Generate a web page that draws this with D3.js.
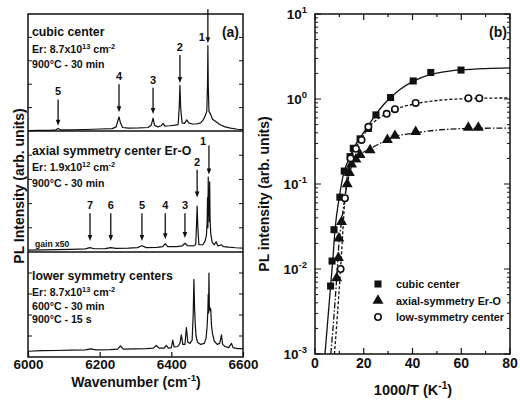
<!DOCTYPE html>
<html>
<head>
<meta charset="utf-8">
<script src="https://cdn.jsdelivr.net/npm/d3@7"></script>
<style>
body { margin: 0; background: #fff; }
text { font-family: "Liberation Sans", Arial, sans-serif; font-weight: bold; fill: #111; }
</style>
</head>
<body>
<div id="chart"></div>
<script>
// ---- panel (a): PL spectra, [wavenumber cm-1, intensity (arb., 0-100 per strip)]
var cubicSpec = [[6000,0.4],[6030,0.6],[6060,0.6],[6078,1.0],[6084,2.2],[6090,1.0],[6120,1.0],[6160,1.3],[6200,1.7],[6235,2.0],[6246,3.5],[6251,9],[6254,12],[6258,7],[6264,3],[6280,2.4],[6310,2.6],[6335,3.0],[6344,5],[6349,11],[6353,5],[6362,3.5],[6372,4.5],[6377,6.5],[6382,4.2],[6395,4.5],[6410,5],[6419,5.5],[6422,20],[6424,39],[6426,20],[6430,7],[6437,6.5],[6443,9.5],[6448,7],[6458,6],[6470,6],[6482,7],[6490,10],[6496,14],[6499,17],[6501,40],[6502,73],[6503,40],[6505,17],[6510,14],[6515,10],[6522,8.5],[6535,5.5],[6550,3.5],[6565,2.5],[6585,1.5],[6600,1.0]];
var axialSpec = [[6000,1.6],[6040,1.8],[6080,2.0],[6120,2.2],[6160,2.6],[6173,3.6],[6185,2.7],[6215,2.8],[6231,3.6],[6245,3.0],[6280,3.2],[6305,3.6],[6318,5.2],[6330,3.6],[6360,3.8],[6376,4.5],[6383,6.8],[6390,4.5],[6415,4.5],[6430,5.0],[6438,7.2],[6445,5.2],[6460,5.0],[6468,6],[6470,20],[6472,38],[6474,20],[6477,6],[6488,6],[6494,9],[6498,14],[6500,25],[6501,45],[6502,20],[6503,62],[6504,30],[6505,52],[6506,25],[6507,58],[6508,28],[6510,15],[6514,8],[6520,6],[6525,8.5],[6530,5],[6540,6],[6545,4.5],[6560,4],[6580,3.5],[6600,3.2]];
var lowSpec = [[6000,5.5],[6040,6],[6080,6.2],[6120,6.5],[6160,6.8],[6175,7.8],[6190,6.8],[6230,7],[6250,7.5],[6258,10.5],[6266,7.5],[6300,7.8],[6330,8],[6350,8.5],[6358,11],[6366,8.5],[6380,8.5],[6386,11],[6392,8.5],[6400,9],[6404,16],[6408,9.5],[6418,10],[6424,13],[6428,21],[6432,12],[6438,12],[6442,28],[6446,14],[6452,13],[6458,16],[6461,40],[6463,74],[6465,45],[6467,30],[6469,20],[6473,14],[6482,12],[6492,13],[6497,18],[6500,30],[6502,45],[6503,60],[6504,42],[6505,80],[6506,50],[6508,44],[6510,46],[6512,30],[6515,22],[6520,15],[6528,12],[6535,13],[6540,21],[6543,12],[6550,10],[6560,9],[6568,13],[6572,9],[6585,8],[6600,8]];

// peak markers: label, wavenumber, arrow from / to (strip units)
var cubicArrows = [["5",6084,27,4.5],["4",6254,40,16],["3",6349,37,14.5],["2",6424,65,41],["1",6502,104,75]];
var axialArrows = [["7",6173,32,9],["6",6231,32,9],["5",6318,32,9],["4",6383,32,10.5],["3",6438,32,11.5],["2",6472,68,45],["1",6505,88,64]];

var cubicInfo = ["cubic center", "Er: 8.7x10^{13} cm^{-2}", "900°C - 30 min"];
var axialInfo = ["axial symmetry center Er-O", "Er: 1.9x10^{12} cm^{-2}", "900°C - 30 min"];
var lowInfo = ["lower symmetry centers", "Er: 8.7x10^{13} cm^{-2}", "600°C - 30 min", "900°C - 15 s"];

var wnTicks = [6000, 6200, 6400, 6600];

// ---- panel (b): PL intensity vs 1000/T
var cubicX = [6.4, 7.0, 7.8, 10.2, 12.0, 14.4, 15.7, 18.5, 21.9, 25.0, 31.0, 40.3, 47.5, 59.9];
var cubicY = [0.0063, 0.0124, 0.029, 0.070, 0.142, 0.21, 0.263, 0.34, 0.45, 0.65, 1.04, 1.63, 2.05, 2.19];
var axialX = [8.9, 9.6, 9.8, 10.9, 13.2, 14.1, 15.0, 16.8, 18.5, 22.6, 29.7, 32.8, 41.3, 62.9, 67.0];
var axialY = [0.0078, 0.0135, 0.023, 0.036, 0.10, 0.135, 0.17, 0.195, 0.22, 0.25, 0.33, 0.37, 0.41, 0.46, 0.46];
var lowX = [10.5, 12.3, 14.6, 16.8, 19.1, 21.9, 29.4, 32.8, 41.3, 62.9, 67.4];
var lowY = [0.010, 0.068, 0.20, 0.26, 0.33, 0.47, 0.67, 0.76, 0.90, 1.02, 1.02];

// fitted curves
var cubicFitX = [4.1, 6.4, 7.3, 8.2, 10, 11.8, 14, 16, 18.5, 21.5, 25, 28, 31, 35, 40, 45, 50, 55, 60, 70, 80];
var cubicFitY = [0.001, 0.0063, 0.0128, 0.0288, 0.071, 0.135, 0.2, 0.27, 0.35, 0.47, 0.66, 0.85, 1.04, 1.3, 1.6, 1.85, 2.02, 2.13, 2.2, 2.28, 2.32];
var axialFitX = [6.5, 8.9, 9.7, 10.9, 13.2, 15, 18.5, 22.6, 29.7, 32.8, 41.3, 50, 63, 80];
var axialFitY = [0.001, 0.0078, 0.018, 0.036, 0.10, 0.16, 0.22, 0.26, 0.33, 0.36, 0.40, 0.43, 0.45, 0.455];
var lowFitX = [8.0, 10.5, 12.3, 14.6, 16.8, 19.1, 21.9, 25, 29.4, 32.8, 41.3, 50, 62.9, 80];
var lowFitY = [0.001, 0.010, 0.068, 0.2, 0.27, 0.34, 0.46, 0.56, 0.67, 0.75, 0.88, 0.96, 1.01, 1.03];

var legendLabels = ["cubic center", "axial-symmetry Er-O", "low-symmetry center"];
var invTTicks = [0, 20, 40, 60, 80];

var W = 520, H = 403;
var svg = d3.select("#chart").append("svg").attr("width", W).attr("height", H);
svg.append("rect").attr("width", W).attr("height", H).attr("fill", "#fff");

// text with ^{...} superscripts
function rich(t, str, size) {
	var parts = str.split(/\^\{([^}]*)\}/), up = false;
	parts.forEach(function(p, i) {
		if (p === "") return;
		var ts = t.append("tspan").text(p);
		if (i % 2 === 1) {
			ts.attr("font-size", size * 0.7).attr("dy", up ? 0 : -size * 0.42);
			up = true;
		} else {
			ts.attr("dy", up ? size * 0.42 : 0);
			up = false;
		}
	});
	return t;
}

// ================= panel (a)
var xA = d3.scaleLinear().domain([6000, 6600]).range([28, 243]);
var strips = [
	{ spec: cubicSpec, top: 14, bottom: 131, arrows: cubicArrows, info: cubicInfo, infoY: 35.5, dy: [0, 17.5, 32.5] },
	{ spec: axialSpec, top: 131, bottom: 252, arrows: axialArrows, info: axialInfo, infoY: 155, dy: [0, 16, 32] },
	{ spec: lowSpec, top: 252, bottom: 357, arrows: [], info: lowInfo, infoY: 280, dy: [0, 16, 30, 43] }
];

var gA = svg.append("g");

strips.forEach(function(s) {
	var y = d3.scaleLinear().domain([0, 100]).range([s.bottom, s.top]);

	// small inward ticks on both sides
	y.ticks(5).filter(function(v) { return v > 0 && v < 100; }).forEach(function(v) {
		gA.append("line").attr("x1", 28).attr("x2", 32).attr("y1", y(v)).attr("y2", y(v))
			.attr("stroke", "#111").attr("stroke-width", 1);
		gA.append("line").attr("x1", 239).attr("x2", 243).attr("y1", y(v)).attr("y2", y(v))
			.attr("stroke", "#111").attr("stroke-width", 1);
	});

	gA.append("path")
		.datum(s.spec)
		.attr("fill", "none")
		.attr("stroke", "#111")
		.attr("stroke-width", 1.2)
		.attr("stroke-linejoin", "round")
		.attr("d", d3.line().x(function(d) { return xA(d[0]); }).y(function(d) { return y(d[1]); }));

	s.arrows.forEach(function(a) {
		var x = xA(a[1]), y0 = y(a[2]), y1 = y(a[3]);
		gA.append("line").attr("x1", x).attr("x2", x).attr("y1", y0).attr("y2", y1 - 4)
			.attr("stroke", "#111").attr("stroke-width", 1.3);
		gA.append("path").attr("d", "M" + (x - 2.3) + "," + (y1 - 6) + "L" + (x + 2.3) + "," + (y1 - 6) + "L" + x + "," + y1 + "Z")
			.attr("fill", "#111");
		var lbl = gA.append("text").attr("font-size", 11).text(a[0]);
		if (a[0] === "1") {
			lbl.attr("x", x - 6).attr("text-anchor", "middle")
				.attr("y", s.top === 14 ? 41 : y0 - 1);
		} else {
			lbl.attr("x", x).attr("text-anchor", "middle").attr("y", y0 - 4);
		}
	});

	s.info.forEach(function(line, i) {
		var t = gA.append("text").attr("x", 32).attr("y", s.infoY + s.dy[i])
			.attr("font-size", i === 0 ? 12.3 : 10.6);
		rich(t, line, i === 0 ? 12.3 : 10.6);
	});
});

gA.append("text").attr("x", 35).attr("y", 247).attr("font-size", 8.6).text("gain x50");

// frame and strip dividers
gA.append("rect").attr("x", 28).attr("y", 14).attr("width", 215).attr("height", 343)
	.attr("fill", "none").attr("stroke", "#111").attr("stroke-width", 1.5);
[131, 252].forEach(function(v) {
	gA.append("line").attr("x1", 28).attr("x2", 243).attr("y1", v).attr("y2", v)
		.attr("stroke", "#111").attr("stroke-width", 1.5);
});

var axA = gA.append("g").attr("transform", "translate(0,357)")
	.call(d3.axisBottom(xA).tickValues(wnTicks).tickSizeInner(-5).tickSizeOuter(0).tickPadding(2).tickFormat(d3.format("d")));
axA.select(".domain").remove();
axA.selectAll("line").attr("stroke", "#111").attr("stroke-width", 1.2);
axA.selectAll("text").attr("font-size", 13.5).attr("font-family", null);

rich(gA.append("text").attr("x", 136).attr("y", 387).attr("text-anchor", "middle").attr("font-size", 14),
	"Wavenumber (cm^{-1})", 14);
gA.append("text").attr("transform", "translate(24,186) rotate(-90)").attr("text-anchor", "middle")
	.attr("font-size", 14).text("PL Intensity (arb. units)");
gA.append("text").attr("x", 239).attr("y", 37).attr("text-anchor", "end").attr("font-size", 14).text("(a)");

// ================= panel (b)
var xB = d3.scaleLinear().domain([0, 80]).range([315, 510]);
var yB = d3.scaleLog().domain([1e-3, 10]).range([354, 14]);
var gB = svg.append("g");

svg.append("clipPath").attr("id", "clipB").append("rect")
	.attr("x", 315).attr("y", 14).attr("width", 195).attr("height", 340);

// ticks (inward on all four sides)
var logTicks = yB.ticks();
logTicks.forEach(function(v) {
	var major = Math.abs(Math.log10(v) - Math.round(Math.log10(v))) < 1e-6;
	var len = major ? 6 : 3;
	gB.append("line").attr("x1", 315).attr("x2", 315 + len).attr("y1", yB(v)).attr("y2", yB(v))
		.attr("stroke", "#111").attr("stroke-width", 1);
	gB.append("line").attr("x1", 510 - len).attr("x2", 510).attr("y1", yB(v)).attr("y2", yB(v))
		.attr("stroke", "#111").attr("stroke-width", 1);
});
d3.range(0, 81, 10).forEach(function(v) {
	var len = v % 20 === 0 ? 6 : 3;
	gB.append("line").attr("x1", xB(v)).attr("x2", xB(v)).attr("y1", 354).attr("y2", 354 - len)
		.attr("stroke", "#111").attr("stroke-width", 1.2);
	gB.append("line").attr("x1", xB(v)).attr("x2", xB(v)).attr("y1", 14).attr("y2", 14 + len)
		.attr("stroke", "#111").attr("stroke-width", 1.2);
});

// tick labels
invTTicks.forEach(function(v) {
	gB.append("text").attr("x", xB(v)).attr("y", 368).attr("text-anchor", "middle")
		.attr("font-size", 14).text(v);
});
logTicks.filter(function(v) {
	return Math.abs(Math.log10(v) - Math.round(Math.log10(v))) < 1e-6;
}).forEach(function(v) {
	var e = Math.round(Math.log10(v));
	rich(gB.append("text").attr("x", 307).attr("y", yB(v) + 5).attr("text-anchor", "end").attr("font-size", 13.5),
		"10^{" + e + "}", 13.5);
});

// fit curves
var lineB = d3.line().x(function(d) { return xB(d[0]); }).y(function(d) { return yB(d[1]); })
	.curve(d3.curveMonotoneX);
var fits = [
	{ x: cubicFitX, y: cubicFitY, dash: null },
	{ x: axialFitX, y: axialFitY, dash: "6,2,1.5,2" },
	{ x: lowFitX, y: lowFitY, dash: "3,2" }
];
fits.forEach(function(f) {
	gB.append("path")
		.datum(d3.zip(f.x, f.y))
		.attr("clip-path", "url(#clipB)")
		.attr("fill", "none")
		.attr("stroke", "#111")
		.attr("stroke-width", 1.3)
		.attr("stroke-dasharray", f.dash)
		.attr("d", lineB);
});

// markers
var sq = d3.symbol().type(d3.symbolSquare).size(50);
var tri = d3.symbol().type(d3.symbolTriangle).size(52);
gB.selectAll(".sq").data(d3.zip(cubicX, cubicY)).enter().append("path")
	.attr("class", "sq").attr("d", sq).attr("fill", "#111")
	.attr("transform", function(d) { return "translate(" + xB(d[0]) + "," + yB(d[1]) + ")"; });
gB.selectAll(".tri").data(d3.zip(axialX, axialY)).enter().append("path")
	.attr("class", "tri").attr("d", tri).attr("fill", "#111")
	.attr("transform", function(d) { return "translate(" + xB(d[0]) + "," + yB(d[1]) + ")"; });
gB.selectAll(".circ").data(d3.zip(lowX, lowY)).enter().append("circle")
	.attr("class", "circ").attr("r", 3.2).attr("fill", "#fff").attr("stroke", "#111").attr("stroke-width", 1.6)
	.attr("cx", function(d) { return xB(d[0]); }).attr("cy", function(d) { return yB(d[1]); });

// frame
gB.append("rect").attr("x", 315).attr("y", 14).attr("width", 195).attr("height", 340)
	.attr("fill", "none").attr("stroke", "#111").attr("stroke-width", 1.5);

// legend
var legY = [284, 300.5, 317];
gB.append("path").attr("d", sq).attr("fill", "#111").attr("transform", "translate(378," + legY[0] + ")");
gB.append("path").attr("d", tri).attr("fill", "#111").attr("transform", "translate(378," + legY[1] + ")");
gB.append("circle").attr("cx", 378).attr("cy", legY[2]).attr("r", 3.2).attr("fill", "#fff")
	.attr("stroke", "#111").attr("stroke-width", 1.6);
legendLabels.forEach(function(l, i) {
	gB.append("text").attr("x", 396).attr("y", legY[i] + 4).attr("font-size", 10.8).text(l);
});

rich(gB.append("text").attr("x", 413).attr("y", 395).attr("text-anchor", "middle").attr("font-size", 14.5),
	"1000/T (K^{-1})", 14.5);
gB.append("text").attr("transform", "translate(269,194) rotate(-90)").attr("text-anchor", "middle")
	.attr("font-size", 14).text("PL intensity (arb. units)");
gB.append("text").attr("x", 507).attr("y", 37).attr("text-anchor", "end").attr("font-size", 14).text("(b)");
</script>
</body>
</html>
